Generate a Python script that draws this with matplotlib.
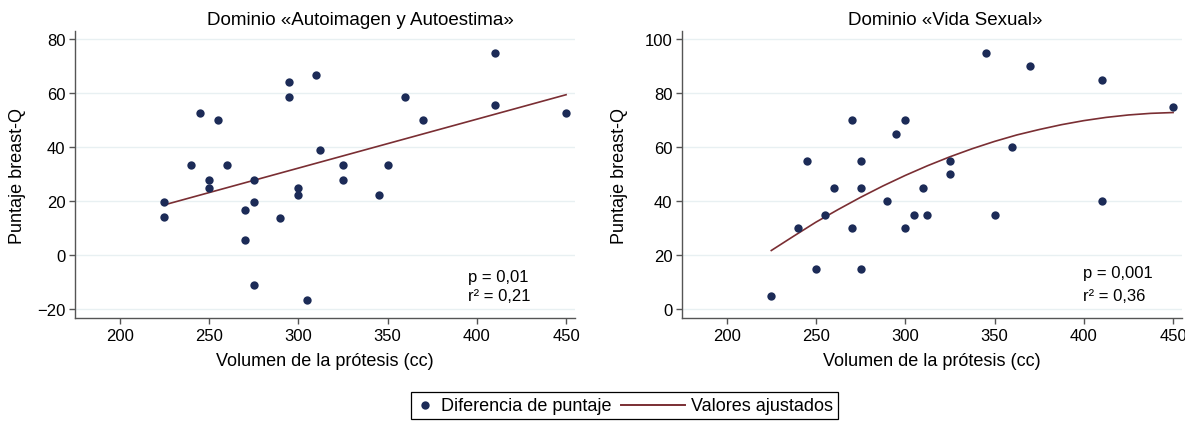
import matplotlib
matplotlib.use("Agg")
import matplotlib.pyplot as plt
from matplotlib.lines import Line2D
from matplotlib.offsetbox import AnchoredOffsetbox, HPacker, TextArea, DrawingArea

plt.rcParams['font.family'] = ['Liberation Sans', 'DejaVu Sans']

# ---------------- data ----------------
titles = ["Dominio «Autoimagen y Autoestima»", "Dominio «Vida Sexual»"]
xlabel = "Volumen de la prótesis (cc)"
ylabel = "Puntaje breast-Q"

auto_x = [225, 225, 240, 245, 250, 250, 255, 260, 270, 270, 275, 275, 275, 290, 295,
          295, 300, 300, 305, 310, 312, 325, 325, 345, 350, 360, 370, 410, 410, 450]
auto_y = [19.5, 14.0, 33.3, 52.8, 27.9, 25.0, 50.1, 33.3, 16.7, 5.7, 27.9, 19.5, -11.0, 13.9, 64.0,
          58.4, 25.0, 22.1, -16.5, 66.8, 38.9, 33.3, 27.9, 22.1, 33.3, 58.4, 50.1, 75.0, 55.6, 52.6]
auto_fit_x = [225, 450]
auto_fit_y = [18.6, 59.4]

sex_x = [225, 240, 245, 250, 255, 260, 270, 270, 275, 275, 275, 290, 295, 300, 300,
         305, 310, 312, 325, 325, 345, 350, 360, 370, 410, 410, 450]
sex_y = [5, 30, 55, 15, 35, 45, 70, 30, 55, 45, 15, 40, 65, 70, 30,
         35, 45, 35, 55, 50, 95, 35, 60, 90, 85, 40, 75]
sex_fit_x = [225, 237.5, 250, 262.5, 275, 287.5, 300, 312.5, 325, 337.5, 350,
             362.5, 375, 387.5, 400, 412.5, 425, 437.5, 450]
sex_fit_y = [21.7, 27.0, 32.2, 36.9, 41.4, 45.6, 49.5, 53.1, 56.4, 59.4, 62.1,
             64.5, 66.5, 68.3, 69.8, 71.0, 71.9, 72.5, 72.8]

stats = [("p = 0,01", "r² = 0,21"), ("p = 0,001", "r² = 0,36")]
xticks = [200, 250, 300, 350, 400, 450]
yticks = [[-20, 0, 20, 40, 60, 80], [0, 20, 40, 60, 80, 100]]
ylims = [(-23.3, 83.0), (-3.3, 103.0)]
legend_labels = ["Diferencia de puntaje", "Valores ajustados"]

# ---------------- style ----------------
dot_color = "#1c2b57"
line_color = "#7a2e33"
grid_color = "#e8f0f2"
spine_color = "#555555"

W, H = 1185, 427
fig = plt.figure(figsize=(W / 100, H / 100), dpi=100)

axes_px = [(75, 32, 500, 287), (682, 32, 500, 287)]
title_x = [0.57, 0.526]
stat_pos = [(0.786, 0.146, 0.077), (0.802, 0.157, 0.080)]
ylabel_right = [26, 628]

series = [(auto_x, auto_y, auto_fit_x, auto_fit_y), (sex_x, sex_y, sex_fit_x, sex_fit_y)]

for i, (l, t, w, h) in enumerate(axes_px):
    ax = fig.add_axes([l / W, (H - t - h) / H, w / W, h / H])
    sx, sy, fx, fy = series[i]
    ax.plot(fx, fy, color=line_color, lw=1.2, zorder=2, solid_joinstyle='round')
    ax.scatter(sx, sy, s=36, color=dot_color, zorder=3, linewidths=0)
    ax.set_xlim(175, 455)
    ax.set_ylim(*ylims[i])
    ax.set_xticks(xticks)
    ax.set_yticks(yticks[i])
    ax.set_yticklabels([str(v).replace('-', '\u2212') for v in yticks[i]])
    ax.yaxis.grid(True, color=grid_color, lw=1.0)
    ax.set_axisbelow(True)
    for s in ("top", "right"):
        ax.spines[s].set_visible(False)
    for s in ("left", "bottom"):
        ax.spines[s].set_color(spine_color)
        ax.spines[s].set_linewidth(1.0)
    ax.tick_params(axis='both', colors=spine_color, labelcolor='black', labelsize=12,
                   length=4, width=1.0, direction='out', pad=3)
    ax.set_title(titles[i], fontsize=13.5, x=title_x[i], pad=5)
    ax.set_xlabel(xlabel, fontsize=13, labelpad=7)
    ax.set_ylabel(ylabel, fontsize=13)
    ax.yaxis.set_label_coords((ylabel_right[i] - l) / w, 0.5)
    sxp, sy1, sy2 = stat_pos[i]
    ax.text(sxp, sy1, stats[i][0], transform=ax.transAxes, fontsize=12, va='center', ha='left')
    ax.text(sxp, sy2, stats[i][1], transform=ax.transAxes, fontsize=12, va='center', ha='left')

# ---------------- legend ----------------
da1 = DrawingArea(18.3, 12, 0, 0)
da1.add_artist(Line2D([6.8], [6], marker='o', markersize=6, color=dot_color, lw=0,
                      markeredgewidth=0))
ta1 = TextArea(legend_labels[0], textprops=dict(fontsize=13))
da2 = DrawingArea(57.6, 12, 0, 0)
da2.add_artist(Line2D([7.2, 53.3], [6, 6], color=line_color, lw=1.4))
ta2 = TextArea(legend_labels[1], textprops=dict(fontsize=13))
pack = HPacker(children=[da1, ta1, da2, ta2], align="center", pad=0, sep=0)
box = AnchoredOffsetbox(loc='upper center', child=pack, pad=0.35, borderpad=0,
                        frameon=True, bbox_to_anchor=(0.527, 34 / H),
                        bbox_transform=fig.transFigure)
box.patch.set_boxstyle("square", pad=0)
box.patch.set_edgecolor("black")
box.patch.set_linewidth(0.9)
fig.add_artist(box)

fig.savefig("out.png", dpi=100)
